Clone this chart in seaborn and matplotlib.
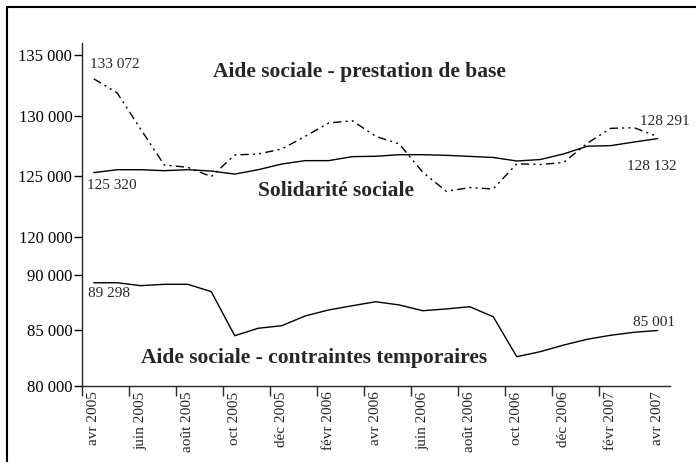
import pandas as pd
import matplotlib.pyplot as plt
import matplotlib.ticker as mticker
from matplotlib.lines import Line2D
import seaborn as sns

months = ["avr 2005", "mai 2005", "juin 2005", "juil 2005", "août 2005", "sept 2005",
          "oct 2005", "nov 2005", "déc 2005", "janv 2006", "févr 2006", "mars 2006",
          "avr 2006", "mai 2006", "juin 2006", "juil 2006", "août 2006", "sept 2006",
          "oct 2006", "nov 2006", "déc 2006", "janv 2007", "févr 2007", "mars 2007",
          "avr 2007"]

prestation_base = [133072, 131900, 128900, 125950, 125760, 124990, 126780, 126860,
                   127270, 128320, 129420, 129610, 128320, 127690, 125350, 123780,
                   124080, 123970, 126050, 125990, 126160, 127750, 128980, 129030,
                   128291]
solidarite = [125320, 125560, 125560, 125480, 125560, 125450, 125200, 125560,
              126030, 126310, 126310, 126640, 126670, 126800, 126800, 126750,
              126660, 126570, 126280, 126400, 126870, 127500, 127550, 127850,
              128132]
contraintes = [89298, 89300, 89036, 89160, 89160, 88500, 84530, 85200, 85430,
               86310, 86850, 87230, 87590, 87300, 86780, 86940, 87140, 86240,
               82640, 83090, 83690, 84210, 84570, 84840, 85001]

df = pd.DataFrame({"mois": range(len(months)), "label": months,
                   "base": prestation_base, "solid": solidarite,
                   "contr": contraintes})

sns.set_style("ticks")
plt.rcParams["font.family"] = ["Liberation Serif", "DejaVu Serif"]
plt.rcParams["axes.linewidth"] = 1.0

fig = plt.figure(figsize=(6.96, 4.62), dpi=100)
ax_top = fig.add_axes([82 / 696, 1 - 237 / 462, 587.5 / 696, 194 / 462])
ax_bot = fig.add_axes([82 / 696, 1 - 386 / 462, 587.5 / 696, 149 / 462])

sns.lineplot(data=df, x="mois", y="base", ax=ax_top, color="black", lw=1.0,
             dashes=False, linestyle=(0, (6, 3, 1.5, 3, 1.5, 3)))
sns.lineplot(data=df, x="mois", y="solid", ax=ax_top, color="black", lw=1.0)
sns.lineplot(data=df, x="mois", y="contr", ax=ax_bot, color="black", lw=1.0)

fmt = mticker.FuncFormatter(lambda v, p: f"{int(v):,}".replace(",", " "))
for ax in (ax_top, ax_bot):
    ax.set_xlim(-0.5, len(months) - 0.5)
    ax.set_xlabel("")
    ax.set_ylabel("")
    ax.yaxis.set_major_formatter(fmt)
    ax.tick_params(axis="y", direction="out", length=6, width=1, pad=1,
                   labelsize=12, colors="black")
    for s in ("top", "right"):
        ax.spines[s].set_visible(False)

ax_top.set_ylim(120000, 136030)
ax_top.set_yticks([120000, 125000, 130000, 135000])
ax_top.spines["bottom"].set_visible(False)
ax_top.set_xticks([])

ax_bot.set_ylim(80000, 93420)
ax_bot.set_yticks([80000, 85000, 90000])
ax_bot.set_xticks([i - 0.5 for i in range(0, len(months) - 1, 2)])
ax_bot.set_xticklabels([])
ax_bot.set_xticks(list(range(0, len(months), 2)), minor=True)
ax_bot.set_xticklabels(months[::2], minor=True, rotation=90, fontsize=11)
ax_bot.tick_params(axis="x", which="major", direction="out", length=7, width=1)
ax_bot.tick_params(axis="x", which="minor", length=0, pad=4)

# valeurs extrêmes
last = len(months) - 1
lab = dict(fontsize=11, textcoords="offset points", va="center")
ax_top.annotate("133 072", (0, prestation_base[0]), xytext=(-3, 10), ha="left", **lab)
ax_top.annotate("125 320", (0, solidarite[0]), xytext=(-5, -9.5), ha="left", **lab)
ax_top.annotate("128 291", (last, prestation_base[-1]), xytext=(5, 11), ha="center", **lab)
ax_top.annotate("128 132", (last, solidarite[-1]), xytext=(-4, -20), ha="center", **lab)
ax_bot.annotate("89 298", (0, contraintes[0]), xytext=(-4, -8), ha="left", **lab)
ax_bot.annotate("85 001", (last, contraintes[-1]), xytext=(-3, 6), ha="center", **lab)

bold = dict(fontsize=15.5, fontweight="bold", ha="center", va="center")
ax_top.text(0.473, 0.85, "Aide sociale - prestation de base", transform=ax_top.transAxes, **bold)
ax_top.text(0.432, 0.237, "Solidarité sociale", transform=ax_top.transAxes, **bold)
ax_bot.text(0.395, 0.188, "Aide sociale - contraintes temporaires", transform=ax_bot.transAxes, **bold)

# cadre extérieur
fig.add_artist(Line2D([7 / 696, 7 / 696], [0, 1 - 7 / 462], color="black", lw=1.5,
                      transform=fig.transFigure))
fig.add_artist(Line2D([7 / 696, 1], [1 - 7 / 462, 1 - 7 / 462], color="black", lw=1.5,
                      transform=fig.transFigure))

plt.savefig("out.png", dpi=100)
plt.close()
